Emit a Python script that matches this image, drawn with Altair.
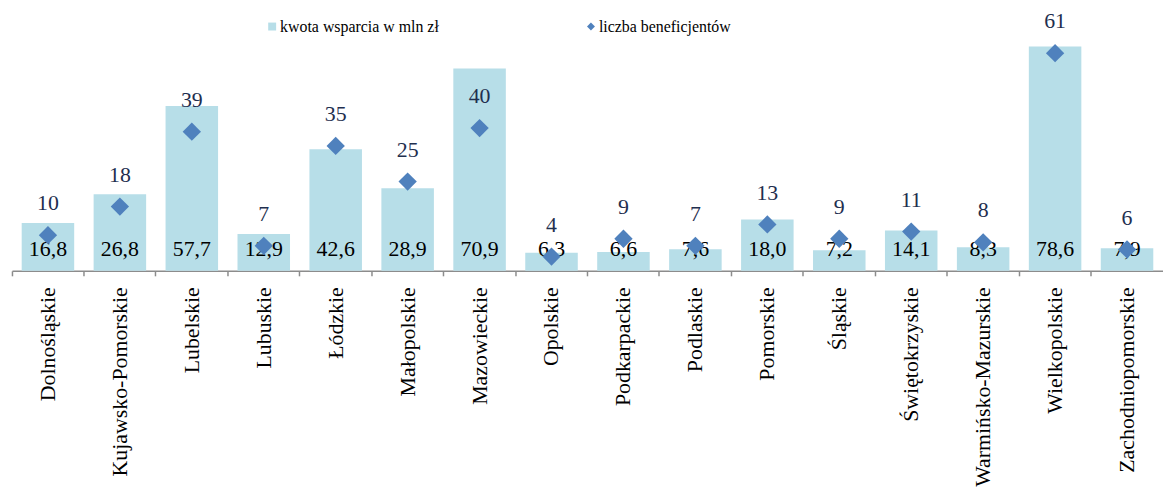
import altair as alt
import pandas as pd

regions = ["Dolnośląskie", "Kujawsko-Pomorskie", "Lubelskie", "Lubuskie", "Łódzkie",
           "Małopolskie", "Mazowieckie", "Opolskie", "Podkarpackie", "Podlaskie",
           "Pomorskie", "Śląskie", "Świętokrzyskie", "Warmińsko-Mazurskie",
           "Wielkopolskie", "Zachodniopomorskie"]
kwota = [16.8, 26.8, 57.7, 12.9, 42.6, 28.9, 70.9, 6.3, 6.6, 7.6, 18.0, 7.2, 14.1, 8.3, 78.6, 7.9]
benef = [10, 18, 39, 7, 35, 25, 40, 4, 9, 7, 13, 9, 11, 8, 61, 6]
series = ["kwota wsparcia w mln zł", "liczba beneficjentów"]

df = pd.DataFrame({
    "region": regions,
    "kwota": kwota,
    "benef": benef,
    "kwota_lbl": [f"{v:.1f}".replace(".", ",") for v in kwota],
    "s_bar": [series[0]] * len(regions),
    "s_pt": [series[1]] * len(regions),
})

FONT = "Liberation Serif"
BAR_C = "#B7DEE8"
PT_C = "#4F81BD"
W = 1159

# last category runs past the right edge of the picture, as in the reference
x = alt.X("region:N", sort=regions,
          scale=alt.Scale(paddingInner=0, paddingOuter=alt.ExprRef("-0.048"), align=0, round=False),
          axis=alt.Axis(title=None, labelAngle=270, labelAlign="right", labelBaseline="middle",
                        labelFont=FONT, labelFontSize=22, labelColor="black", labelPadding=11,
                        labelOverlap=False, labelLimit=400, bandPosition=0,
                        tickSize=5, tickColor="#8c8c8c", tickWidth=1.5,
                        domainColor="#8c8c8c", domainWidth=1.5))

leg = alt.Legend(title=None, orient="none", legendX=254, legendY=-24, direction="horizontal",
                 columnPadding=145, labelFont=FONT, labelFontSize=16, labelColor="black",
                 labelLimit=400, symbolSize=64, symbolStrokeWidth=0, labelOffset=0, padding=0)

color_scale = alt.Scale(domain=series, range=[BAR_C, PT_C])
shape_scale = alt.Scale(domain=series, range=["square", "diamond"])

base = alt.Chart(df)

bars = base.mark_bar(width=alt.RelativeBandSize(0.73)).encode(
    x=x,
    y=alt.Y("kwota:Q", scale=alt.Scale(domain=[0, 80], nice=False, zero=True), axis=None),
    color=alt.Color("s_bar:N", scale=color_scale, legend=leg, title=None),
)
bar_text = base.mark_text(font=FONT, fontSize=22, dy=-22, baseline="middle", color="black").encode(
    x=x,
    y=alt.datum(0),
    text="kwota_lbl:N",
)

points = base.mark_point(filled=True, size=340, opacity=1).encode(
    x=x,
    y=alt.Y("benef:Q", scale=alt.Scale(domain=[0, 64], nice=False, zero=True), axis=None),
    color=alt.Color("s_pt:N", scale=color_scale, legend=leg, title=None),
    shape=alt.Shape("s_pt:N", scale=shape_scale, legend=leg, title=None),
)
point_text = base.mark_text(font=FONT, fontSize=22, dy=-32, baseline="middle", color="#1F2F4F").encode(
    x=x,
    y="benef:Q",
    text="benef:Q",
)

chart = alt.layer(
    alt.layer(bars, bar_text),
    alt.layer(points, point_text),
).resolve_scale(y="independent").properties(
    width=W, height=230,
    padding={"left": 4, "top": 33, "right": 0, "bottom": 219},
    autosize=alt.AutoSizeParams(type="none"),
).configure_view(stroke=None).configure_legend(
    labelFont=FONT, labelFontSize=16, labelColor="black", symbolSize=64, labelLimit=400,
    columnPadding=145, labelOffset=0, padding=0,
)

chart.save("out.html", embed_options={"renderer": "svg", "actions": False})
